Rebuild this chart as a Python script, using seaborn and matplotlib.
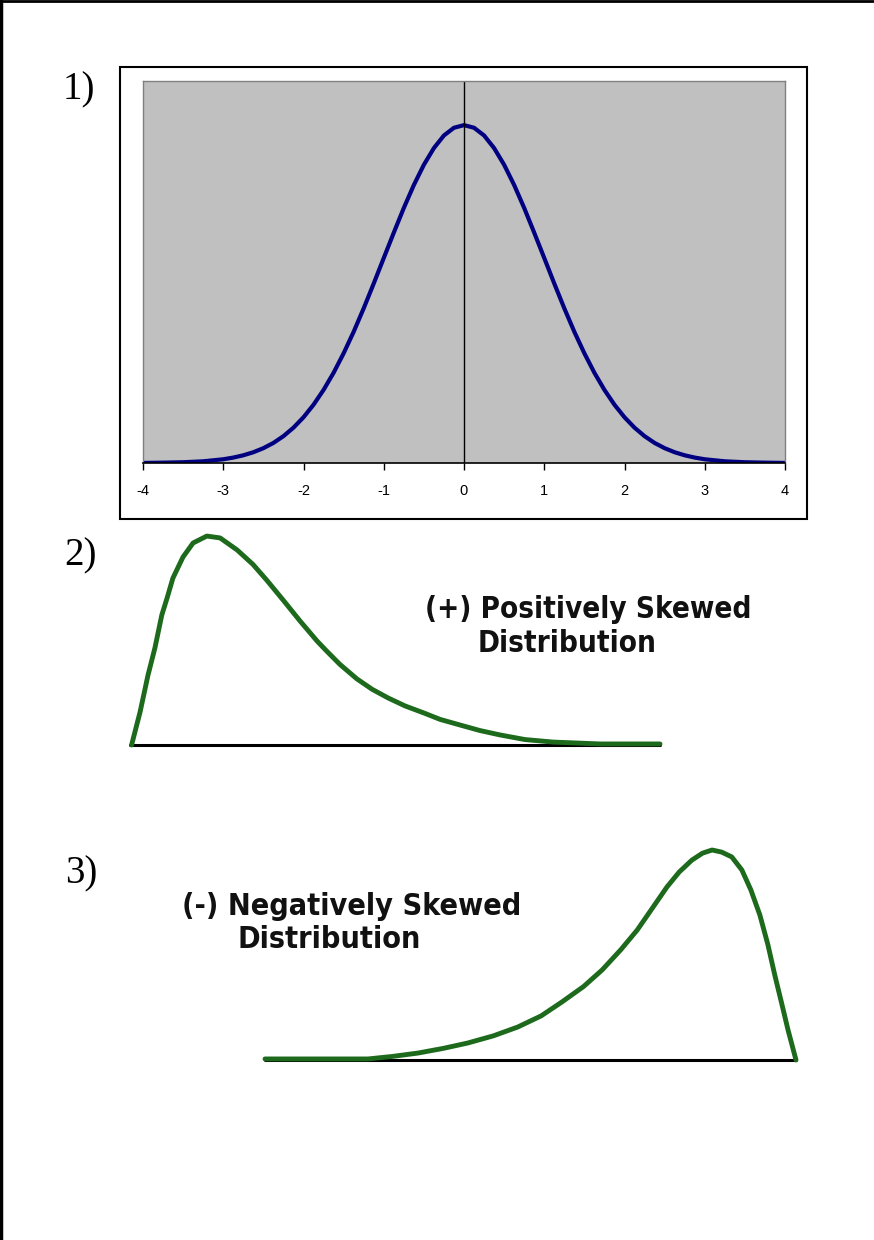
import numpy as np
import matplotlib
matplotlib.use("Agg")
import matplotlib.pyplot as plt
import matplotlib.patches as mpatches
from matplotlib import font_manager
import seaborn as sns

sns.set_style("white")
plt.rcParams['font.family'] = ['Liberation Sans', 'DejaVu Sans']
plt.rcParams['axes.unicode_minus'] = False
plt.rcParams['text.color'] = 'black'
plt.rcParams['xtick.color'] = 'black'

W, H = 874, 1240

# 1) normal curve, read at steps of 0.125
norm_x = [-4, -3.75, -3.5, -3.25, -3, -2.875, -2.75, -2.625, -2.5, -2.375, -2.25, -2.125,
          -2, -1.875, -1.75, -1.625, -1.5, -1.375, -1.25, -1.125, -1, -0.875, -0.75,
          -0.625, -0.5, -0.375, -0.25, -0.125, 0, 0.125, 0.25, 0.375, 0.5, 0.625, 0.75,
          0.875, 1, 1.125, 1.25, 1.375, 1.5, 1.625, 1.75, 1.875, 2, 2.125, 2.25, 2.375,
          2.5, 2.625, 2.75, 2.875, 3, 3.25, 3.5, 3.75, 4]
norm_y = [0.0001, 0.0004, 0.0009, 0.002, 0.0044, 0.0064, 0.0091, 0.0127, 0.0175, 0.0237,
          0.0317, 0.0417, 0.054, 0.0688, 0.0863, 0.1065, 0.1295, 0.1549, 0.1826, 0.2119,
          0.242, 0.2719, 0.3011, 0.3282, 0.3521, 0.3718, 0.3867, 0.3958, 0.3989, 0.3958,
          0.3867, 0.3718, 0.3521, 0.3282, 0.3011, 0.2719, 0.242, 0.2119, 0.1826, 0.1549,
          0.1295, 0.1065, 0.0863, 0.0688, 0.054, 0.0417, 0.0317, 0.0237, 0.0175, 0.0127,
          0.0091, 0.0064, 0.0044, 0.002, 0.0009, 0.0004, 0.0001]
norm_ticks = [-4, -3, -2, -1, 0, 1, 2, 3, 4]

# 2) positively skewed curve (relative units 0..10, 0..1)
pos_x = [0.03, 0.19, 0.34, 0.47, 0.60, 0.70, 0.81, 1.0, 1.19, 1.45, 1.70, 2.02, 2.32, 2.58,
         2.89, 3.21, 3.53, 3.70, 3.96, 4.28, 4.57, 4.87, 5.19, 5.55, 5.85, 6.23, 6.60,
         6.98, 7.45, 7.98, 8.87, 10.0]
pos_y = [0, 0.157, 0.333, 0.462, 0.619, 0.70, 0.795, 0.895, 0.962, 0.995, 0.986, 0.929,
         0.86, 0.785, 0.69, 0.59, 0.495, 0.45, 0.384, 0.315, 0.265, 0.224, 0.186, 0.152,
         0.122, 0.095, 0.069, 0.048, 0.026, 0.014, 0.005, 0.005]
pos_lines = ["(+) Positively Skewed", "Distribution"]

# 3) negatively skewed curve
neg_x = [0, 1.94, 2.4, 2.88, 3.35, 3.82, 4.3, 4.76, 5.2, 5.59, 6.0, 6.35, 6.7, 7.01, 7.3,
         7.57, 7.8, 8.04, 8.24, 8.42, 8.6, 8.79, 8.98, 9.15, 9.32, 9.47, 9.60, 9.73, 9.85,
         10.0]
neg_y = [0.005, 0.005, 0.017, 0.033, 0.055, 0.081, 0.115, 0.157, 0.21, 0.276, 0.35, 0.429,
         0.525, 0.619, 0.725, 0.824, 0.895, 0.952, 0.985, 1.0, 0.99, 0.967, 0.905, 0.81,
         0.69, 0.55, 0.405, 0.27, 0.143, 0]
neg_lines = ["(-) Negatively Skewed", "Distribution"]

panel_labels = ["1)", "2)", "3)"]


def rect(x0, y0, x1, y1):
    # pixel box -> figure fraction
    return [x0 / W, 1 - y1 / H, (x1 - x0) / W, (y1 - y0) / H]


fig = plt.figure(figsize=(W / 100, H / 100), dpi=100)

# page border (top and left)
fig.add_artist(plt.Line2D([0.001, 0.001], [0, 1], color='black', lw=2.5))
fig.add_artist(plt.Line2D([0, 1], [0.999, 0.999], color='black', lw=2))

# chart area box of panel 1
fig.add_artist(mpatches.Rectangle((120 / W, 1 - 519 / H), 687 / W, 452 / H,
                                  fill=False, edgecolor='black', lw=1.5))

ax1 = fig.add_axes(rect(143, 81, 785, 463))
ax1.set_facecolor('#c0c0c0')
sns.lineplot(x=norm_x, y=norm_y, ax=ax1, color='#000080', lw=3)
ax1.axvline(0, color='black', lw=1)
ax1.set_xlim(-4, 4)
ax1.set_ylim(0, 0.451)
ax1.set_xticks(norm_ticks)
ax1.set_yticks([])
ax1.tick_params(axis='x', direction='out', length=5, width=1, color='black',
                labelsize=10.5, pad=10, bottom=True, labelcolor='black')
for s in ['top', 'left', 'right']:
    ax1.spines[s].set_color('#808080')
    ax1.spines[s].set_linewidth(1)
ax1.spines['bottom'].set_color('black')
ax1.spines['bottom'].set_linewidth(1.2)

green = '#1d6a1d'

ax2 = fig.add_axes(rect(130, 535, 660, 745))
ax2.plot([0, 10], [0, 0], color='black', lw=2.2, clip_on=False)
sns.lineplot(x=pos_x, y=pos_y, ax=ax2, color=green, lw=3.5, clip_on=False)
ax2.set_xlim(0, 10)
ax2.set_ylim(0, 1)
ax2.axis('off')

ax3 = fig.add_axes(rect(265, 850, 796, 1060))
ax3.plot([0, 10], [0, 0], color='black', lw=2.2, clip_on=False)
sns.lineplot(x=neg_x, y=neg_y, ax=ax3, color=green, lw=3.5, clip_on=False)
ax3.set_xlim(0, 10)
ax3.set_ylim(0, 1)
ax3.axis('off')

# bold condensed captions
names = {f.name for f in font_manager.fontManager.ttflist}
if 'Liberation Sans Narrow' in names:
    cond = dict(family=['Liberation Sans Narrow', 'DejaVu Sans'])
else:
    cond = dict(family=['DejaVu Sans'], stretch='condensed')

captions = []
for lines, (x1, y1), (x2, y2), width in [
        (pos_lines, (425, 618), (478, 652), 327),
        (neg_lines, (182, 915), (237, 948), 340)]:
    t1 = fig.text(x1 / W, 1 - y1 / H, lines[0], weight='bold', fontsize=22.5,
                  ha='left', va='baseline', color='#111111', **cond)
    t2 = fig.text(x2 / W, 1 - y2 / H, lines[1], weight='bold', fontsize=22.5,
                  ha='left', va='baseline', color='#111111', **cond)
    captions.append((t1, t2, width))

# fit caption width to the reference
fig.canvas.draw()
r = fig.canvas.get_renderer()
for t1, t2, width in captions:
    w = t1.get_window_extent(r).width
    size = 22.5 * min(1.0, width / w)
    t1.set_fontsize(size)
    t2.set_fontsize(size)

serif = ['Liberation Serif', 'DejaVu Serif']
for lab, (lx, ly) in zip(panel_labels, [(63, 99), (64, 565), (65, 883)]):
    fig.text(lx / W, 1 - ly / H, lab, family=serif, fontsize=28, ha='left',
             va='baseline', color='black')

fig.savefig('out.png', dpi=100)
